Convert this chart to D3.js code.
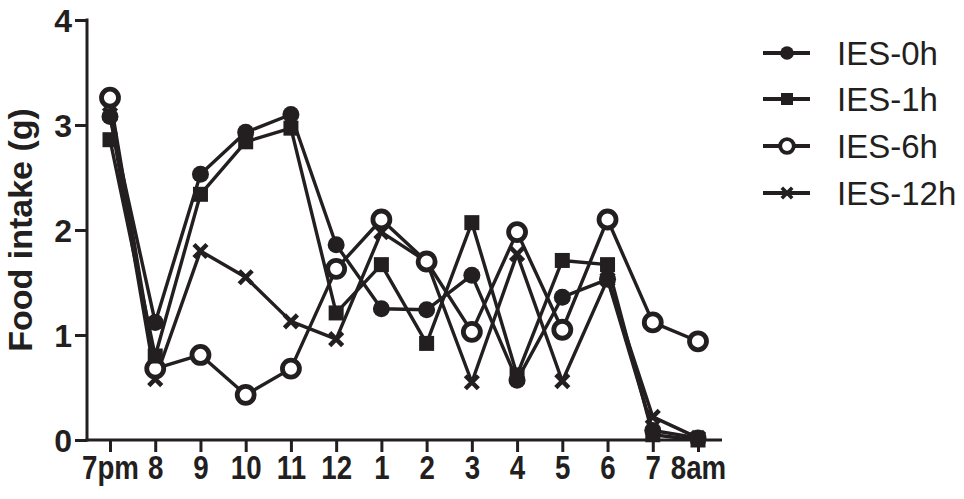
<!DOCTYPE html>
<html>
<head>
<meta charset="utf-8">
<script src="https://cdn.jsdelivr.net/npm/d3@7"></script>
<style>
  body { margin: 0; background: #fff; }
  text { font-family: "Liberation Sans", Arial, Helvetica, sans-serif; fill: #231f20; }
</style>
</head>
<body>
<script>
// time points (x categories)
var hours = ['7pm','8','9','10','11','12','1','2','3','4','5','6','7','8am'];

// food intake (g) per group
var ies0h  = [3.08, 1.12, 2.53, 2.93, 3.10, 1.86, 1.25, 1.24, 1.57, 0.57, 1.36, 1.53, 0.09, 0.02];
var ies1h  = [2.86, 0.80, 2.34, 2.84, 2.97, 1.21, 1.67, 0.92, 2.07, 0.62, 1.71, 1.67, 0.05, 0.00];
var ies6h  = [3.26, 0.68, 0.81, 0.43, 0.68, 1.63, 2.10, 1.70, 1.03, 1.98, 1.05, 2.10, 1.12, 0.94];
var ies12h = [3.10, 0.58, 1.80, 1.55, 1.13, 0.96, 1.98, 1.70, 0.55, 1.77, 0.56, 1.53, 0.22, 0.02];

var seriesNames = ['IES-0h','IES-1h','IES-6h','IES-12h'];
var yTicks = [0,1,2,3,4];

var width = 964, height = 499;
var ink = "#231f20";

var svg = d3.select("body").append("svg")
    .attr("width", width)
    .attr("height", height);

// scales
var x = d3.scalePoint().domain(hours).range([110, 698]);
var y = d3.scaleLinear().domain([0, 4]).range([440, 20]);

// y axis
var yAxis = d3.axisLeft(y).tickValues(yTicks).tickFormat(d3.format("d"))
    .tickSize(12).tickPadding(3).tickSizeOuter(0);
var gy = svg.append("g")
    .attr("transform", "translate(87,0)")
    .call(yAxis);
gy.select(".domain").remove();
gy.selectAll(".tick line").attr("stroke", ink).attr("stroke-width", 3);
gy.selectAll(".tick text")
    .attr("fill", ink)
    .style("font-size", "32px")
    .style("font-weight", "bold")
    .attr("dy", "0.36em");
gy.append("line")
    .attr("x1", 0).attr("x2", 0)
    .attr("y1", y(4) - 1.5).attr("y2", y(0) + 1.5)
    .attr("stroke", ink).attr("stroke-width", 3);

// x axis
var xAxis = d3.axisBottom(x).tickSize(12).tickPadding(4).tickSizeOuter(0);
var gx = svg.append("g")
    .attr("transform", "translate(0," + y(0) + ")")
    .call(xAxis);
gx.select(".domain").remove();
gx.selectAll(".tick line").attr("stroke", ink).attr("stroke-width", 3);
gx.selectAll(".tick text")
    .attr("fill", ink)
    .style("font-size", "33px")
    .style("font-weight", "bold")
    .attr("transform", "scale(0.84,1)");
gx.append("line")
    .attr("x1", 85.5).attr("x2", 722)
    .attr("y1", 0).attr("y2", 0)
    .attr("stroke", ink).attr("stroke-width", 3);

// y title
svg.append("text")
    .attr("transform", "translate(32," + 230 + ") rotate(-90)")
    .attr("text-anchor", "middle")
    .style("font-size", "34px")
    .style("font-weight", "bold")
    .text("Food intake (g)");

// marker drawers
function drawMarker(g, type, s) {
  // s = scale factor for legend
  if (type === 0) {
    g.append("circle").attr("r", 8.5 * s).attr("fill", ink);
  } else if (type === 1) {
    var a = 15 * s;
    g.append("rect").attr("x", -a/2).attr("y", -a/2).attr("width", a).attr("height", a).attr("fill", ink);
  } else if (type === 2) {
    g.append("circle").attr("r", 8.5 * s).attr("fill", "#fff").attr("stroke", ink).attr("stroke-width", 4.8 * s);
  } else {
    var d = 6.5 * s;
    g.append("path")
      .attr("d", "M" + (-d) + "," + (-d) + "L" + d + "," + d + "M" + (-d) + "," + d + "L" + d + "," + (-d))
      .attr("stroke", ink).attr("stroke-width", 4.5 * s).attr("stroke-linecap", "butt");
  }
}

var allSeries = [ies0h, ies1h, ies6h, ies12h];
var line = d3.line()
    .x(function(d, i) { return x(hours[i]); })
    .y(function(d) { return y(d); });

// draw lines first, then markers
var drawOrder = [3, 2, 1, 0];
drawOrder.forEach(function(k) {
  svg.append("path")
    .attr("d", line(allSeries[k]))
    .attr("fill", "none")
    .attr("stroke", ink)
    .attr("stroke-width", 3.4)
    .attr("stroke-linejoin", "round");
});
drawOrder.forEach(function(k) {
  allSeries[k].forEach(function(v, i) {
    var g = svg.append("g").attr("transform", "translate(" + x(hours[i]) + "," + y(v) + ")");
    drawMarker(g, k, 1);
  });
});

// legend
var legendY = [53, 99, 146, 193];
seriesNames.forEach(function(name, k) {
  var lg = svg.append("g").attr("transform", "translate(0," + legendY[k] + ")");
  lg.append("line").attr("x1", 763).attr("x2", 810).attr("y1", 0).attr("y2", 0)
    .attr("stroke", ink).attr("stroke-width", 4);
  var mg = lg.append("g").attr("transform", "translate(787,0)");
  drawMarker(mg, k, 0.8);
  lg.append("text")
    .attr("x", 837).attr("y", 0).attr("dy", "0.36em")
    .style("font-size", "33px")
    .text(name);
});
</script>
</body>
</html>
